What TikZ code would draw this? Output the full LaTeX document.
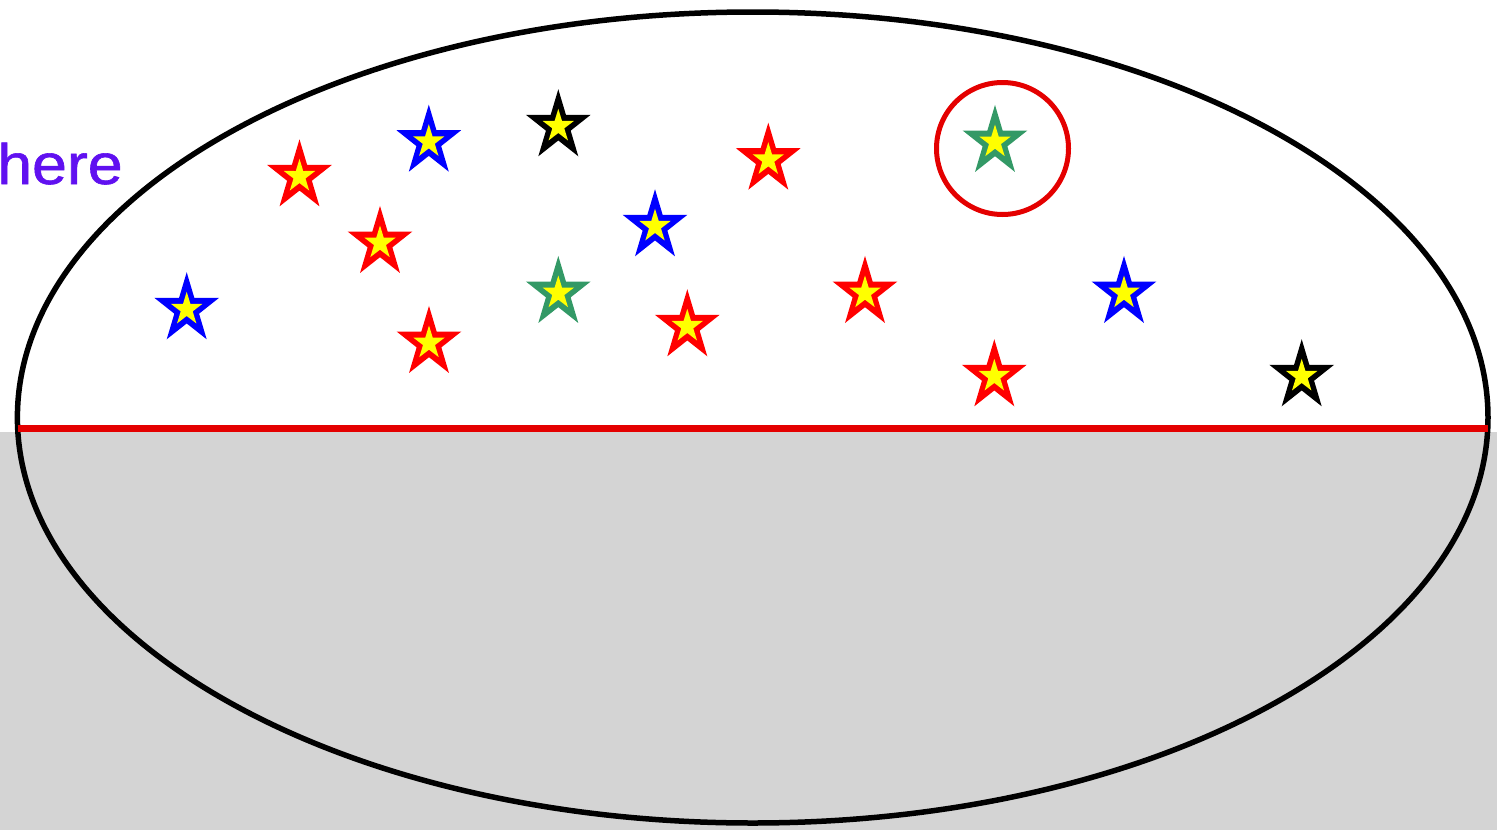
\documentclass[tikz,border=0pt]{standalone}
\usepackage{fontspec}
\setmainfont{Liberation Sans}
\newfontfamily\herefont{Liberation Sans}[FakeBold=1]
\definecolor{starred}{RGB}{255,0,0}
\definecolor{starblue}{RGB}{0,0,255}
\definecolor{stargreen}{RGB}{51,153,102}
\definecolor{staryellow}{RGB}{255,255,0}
\definecolor{linered}{RGB}{228,0,0}
\definecolor{herepurple}{RGB}{96,16,240}
\tikzset{
  pics/mystar/.style={code={
    \fill[#1, yscale=-1.09]
      (90:34) -- (126:13) -- (162:34) -- (198:13) -- (234:34) -- (270:13)
      -- (306:34) -- (342:13) -- (18:34) -- (54:13) -- cycle;
    \fill[staryellow, yscale=-1.06]
      (90:16.5) -- (126:6.3) -- (162:16.5) -- (198:6.3) -- (234:16.5) -- (270:6.3)
      -- (306:16.5) -- (342:6.3) -- (18:16.5) -- (54:6.3) -- cycle;
  }},
  outline/.style={draw=black, line width=5.5},
  redline/.style={draw=linered, line width=7},
  ring/.style={draw=linered, line width=5},
  shade/.style={fill=black, fill opacity=0.17},
}
\begin{document}
\begin{tikzpicture}[x=1pt,y=-1pt]
\useasboundingbox (0,0) rectangle (1497,830);
\begin{scope}
\clip (0,0) rectangle (1497,830);
% ellipse
\draw[outline] (752.7,417.5) ellipse [x radius=735.3, y radius=405.5];
% stars
\pic at (299.5,176.4) {mystar=starred};
\pic at (428.8,141.7) {mystar=starblue};
\pic at (558.3,126.3) {mystar=black};
\pic at (768.3,159.7) {mystar=starred};
\pic at (995,142) {mystar=stargreen};
\pic at (380,243) {mystar=starred};
\pic at (655,226.3) {mystar=starblue};
\pic at (186.7,309.3) {mystar=starblue};
\pic at (558.3,293) {mystar=stargreen};
\pic at (429,343) {mystar=starred};
\pic at (687.3,326.3) {mystar=starred};
\pic at (865,293) {mystar=starred};
\pic at (1124,293) {mystar=starblue};
\pic at (994.3,376.3) {mystar=starred};
\pic at (1301.7,376.3) {mystar=black};
% circle around green star
\draw[ring] (1002.5,148.5) circle [radius=66];
% shaded lower half
\fill[shade] (0,431.5) rectangle (1497,830);
% red line
\coordinate (L) at (17.5,428.3);
\coordinate (R) at (1488,428.3);
\draw[redline] (L) -- (R);
% label
\node[anchor=base west, inner sep=0, text=herepurple, font=\herefont\fontsize{57}{60}\selectfont, xscale=1.1] (here) at (-3,184) {here};
\end{scope}
\end{tikzpicture}
\end{document}
